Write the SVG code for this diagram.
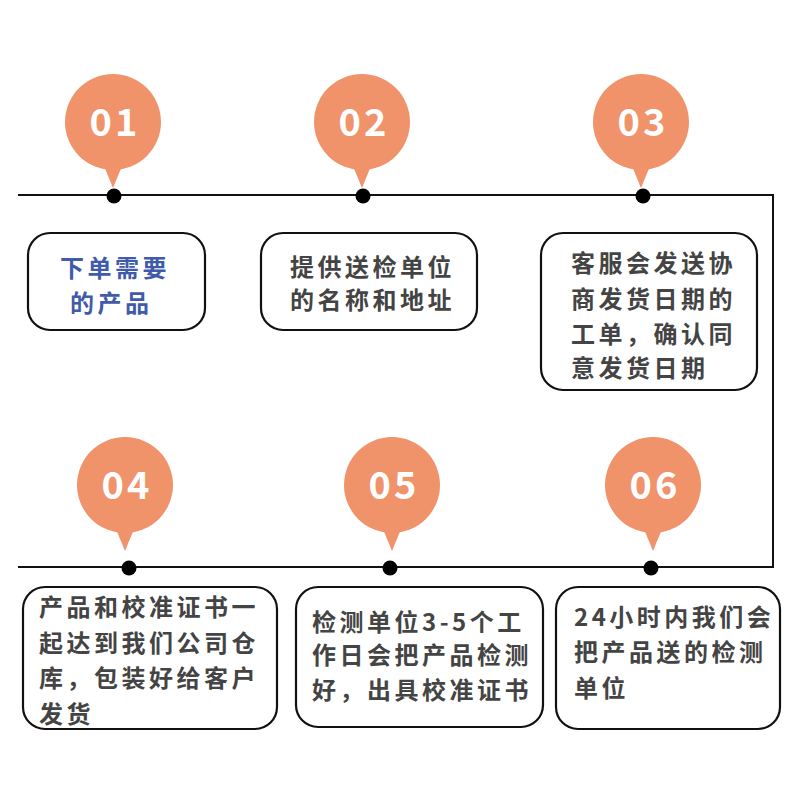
<svg xmlns="http://www.w3.org/2000/svg" width="800" height="800" viewBox="0 0 800 800">
<style>
.pin{fill:#F0926A}
.num{font-family:"Noto Sans CJK SC","Noto Sans",sans-serif;font-weight:bold;font-size:38px;fill:#fff;text-anchor:middle;letter-spacing:3px}
.box{fill:#fff;stroke:#111;stroke-width:2.2}
.t{font-family:"Noto Sans CJK SC","Noto Sans",sans-serif;font-weight:bold;font-size:24px;fill:#444;letter-spacing:3.5px}
.blue{fill:#3F5BAA}
.line{fill:none;stroke:#111;stroke-width:2}
.dot{fill:#000}
</style>
<defs>
<path id="pinshape" d="M-9,44 L0,66 L9,44 Z"/>
</defs>
<rect width="800" height="800" fill="#fff"/>
<g id="connectors">
<path class="line" d="M18,195 H773 V567 H18"/>
</g>
<g id="step01">
<circle class="pin" cx="113" cy="122" r="48"/><use href="#pinshape" class="pin" x="113" y="122"/>
<text class="num" x="115" y="136">01</text>
<circle class="dot" cx="114" cy="196" r="7.5"/>
<rect class="box" x="28" y="233" width="177" height="97" rx="22"/>
<text class="t blue" x="60" y="277">下单需要</text>
<text class="t blue" x="70" y="312">的产品</text>
</g>
<g id="step02">
<circle class="pin" cx="362" cy="122" r="48"/><use href="#pinshape" class="pin" x="362" y="122"/>
<text class="num" x="364" y="136">02</text>
<circle class="dot" cx="363" cy="196" r="7.5"/>
<rect class="box" x="261" y="233" width="216" height="97" rx="22"/>
<text class="t" x="290" y="276">提供送检单位</text>
<text class="t" x="290" y="309">的名称和地址</text>
</g>
<g id="step03">
<circle class="pin" cx="641" cy="122" r="48"/><use href="#pinshape" class="pin" x="641" y="122"/>
<text class="num" x="643" y="136">03</text>
<circle class="dot" cx="643" cy="196" r="7.5"/>
<rect class="box" x="541" y="233" width="216" height="157" rx="22"/>
<text class="t" x="571" y="272">客服会发送协</text>
<text class="t" x="571" y="308">商发货日期的</text>
<text class="t" x="571" y="343">工单，确认同</text>
<text class="t" x="571" y="377">意发货日期</text>
</g>
<g id="step04">
<circle class="pin" cx="125" cy="485" r="48"/><use href="#pinshape" class="pin" x="125" y="485"/>
<text class="num" x="127" y="499">04</text>
<circle class="dot" cx="129" cy="568" r="7.5"/>
<rect class="box" x="23" y="587" width="254" height="142" rx="22"/>
<text class="t" x="39" y="616">产品和校准证书一</text>
<text class="t" x="39" y="652">起达到我们公司仓</text>
<text class="t" x="39" y="687">库，包装好给客户</text>
<text class="t" x="39" y="723">发货</text>
</g>
<g id="step05">
<circle class="pin" cx="392" cy="485" r="48"/><use href="#pinshape" class="pin" x="392" y="485"/>
<text class="num" x="394" y="499">05</text>
<circle class="dot" cx="390" cy="568" r="7.5"/>
<rect class="box" x="296" y="587" width="247" height="140" rx="22"/>
<text class="t" x="312" y="631">检测单位3-5个工</text>
<text class="t" x="312" y="664">作日会把产品检测</text>
<text class="t" x="312" y="699">好，出具校准证书</text>
</g>
<g id="step06">
<circle class="pin" cx="653" cy="485" r="48"/><use href="#pinshape" class="pin" x="653" y="485"/>
<text class="num" x="655" y="499">06</text>
<circle class="dot" cx="651" cy="568" r="7.5"/>
<rect class="box" x="556" y="587" width="224" height="142" rx="22"/>
<text class="t" x="574" y="626">24小时内我们会</text>
<text class="t" x="574" y="661">把产品送的检测</text>
<text class="t" x="574" y="697">单位</text>
</g>
</svg>
